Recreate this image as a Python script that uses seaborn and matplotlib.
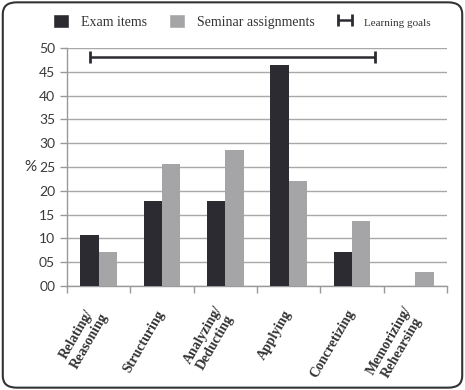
import matplotlib
matplotlib.use("Agg")
import matplotlib.pyplot as plt
import seaborn as sns
import pandas as pd
import numpy as np
from matplotlib.patches import FancyBboxPatch, Patch

categories = ["Relating/\nReasoning", "Structuring", "Analyzing/\nDeducting",
              "Applying", "Concretizing", "Memorizing/\nRehearsing"]
exam_items = [10.7, 17.9, 17.9, 46.4, 7.1, 0.0]
seminar_assignments = [7.1, 25.7, 28.6, 22.1, 13.6, 2.9]
series_names = ["Exam items", "Seminar assignments"]
goal_level = 48.0
goal_start = -0.14
goal_end = 4.36
yticks = [0, 5, 10, 15, 20, 25, 30, 35, 40, 45, 50]

df = pd.DataFrame({
    "category": categories * 2,
    "series": [series_names[0]] * len(categories) + [series_names[1]] * len(categories),
    "value": exam_items + seminar_assignments,
})

sns.set_theme(style="white")
serif = ["Liberation Serif", "DejaVu Serif"]
sansf = ["Lato", "DejaVu Sans"]

fig = plt.figure(figsize=(4.65, 3.9), dpi=100)
ax = fig.add_axes([0.144, 0.267, 0.817, 0.61])

colors = {"Exam items": "#2b2b31", "Seminar assignments": "#a5a5a7"}
sns.barplot(data=df, x="category", y="value", hue="series", order=categories,
            hue_order=series_names, palette=colors, width=0.58, ax=ax,
            legend=False, saturation=1, edgecolor="none", zorder=3)

# learning goals bar
eb = ax.errorbar([(goal_start + goal_end) / 2], [goal_level],
                 xerr=[[(goal_end - goal_start) / 2]], fmt="none",
                 ecolor="#2b2b31", elinewidth=1.8, capsize=4, capthick=2, zorder=4)

ax.set_ylim(0, 50)
ax.set_xlim(-0.5, 5.5)
ax.set_yticks(yticks)
ax.set_yticklabels([f"{v:02d}" for v in yticks], family=sansf, fontsize=10, color="#3a3a3a")
ax.yaxis.grid(True, color="#a8a8a8", linewidth=1.0, zorder=0)
ax.xaxis.grid(False)

ax.set_xticks(range(len(categories)))
ax.set_xticklabels(categories, rotation=60, ha="right", va="center",
                   rotation_mode="anchor", multialignment="center", linespacing=1.15,
                   family=serif, fontsize=10, fontweight="bold", color="#333333")
ax.set_xticks(np.arange(-0.5, 6, 1), minor=True)
ax.tick_params(axis="x", which="major", length=0, pad=18)
ax.tick_params(axis="x", which="minor", length=5, color="#999999", width=1, direction="out", bottom=True)
ax.tick_params(axis="y", length=5, color="#999999", width=1, direction="out", left=True)

for s in ["top", "right"]:
    ax.spines[s].set_visible(False)
for s in ["left", "bottom"]:
    ax.spines[s].set_color("#999999")
    ax.spines[s].set_linewidth(1.0)

ax.set_xlabel("")
ax.set_ylabel("%", rotation=0, family=sansf, fontsize=11, color="#333333", labelpad=6, va="center")

handles = [Patch(facecolor=colors[series_names[0]]),
           Patch(facecolor=colors[series_names[1]]),
           eb]
leg = fig.legend(handles, series_names + ["Learning goals"], loc="center",
                 bbox_to_anchor=(0.52, 0.945), ncol=3, frameon=False,
                 prop={"family": serif, "size": 10}, handlelength=1.2,
                 handleheight=1.2, columnspacing=1.6, handletextpad=0.8)
for t in leg.get_texts():
    t.set_color("#333333")
leg.get_texts()[2].set_fontsize(8)

border = FancyBboxPatch((0.006, 0.006), 0.988, 0.988, boxstyle="round,pad=0,rounding_size=0.03",
                        transform=fig.transFigure, facecolor="none", edgecolor="#333333",
                        linewidth=1.5)
fig.patches.append(border)

fig.savefig("out.png", dpi=100)
